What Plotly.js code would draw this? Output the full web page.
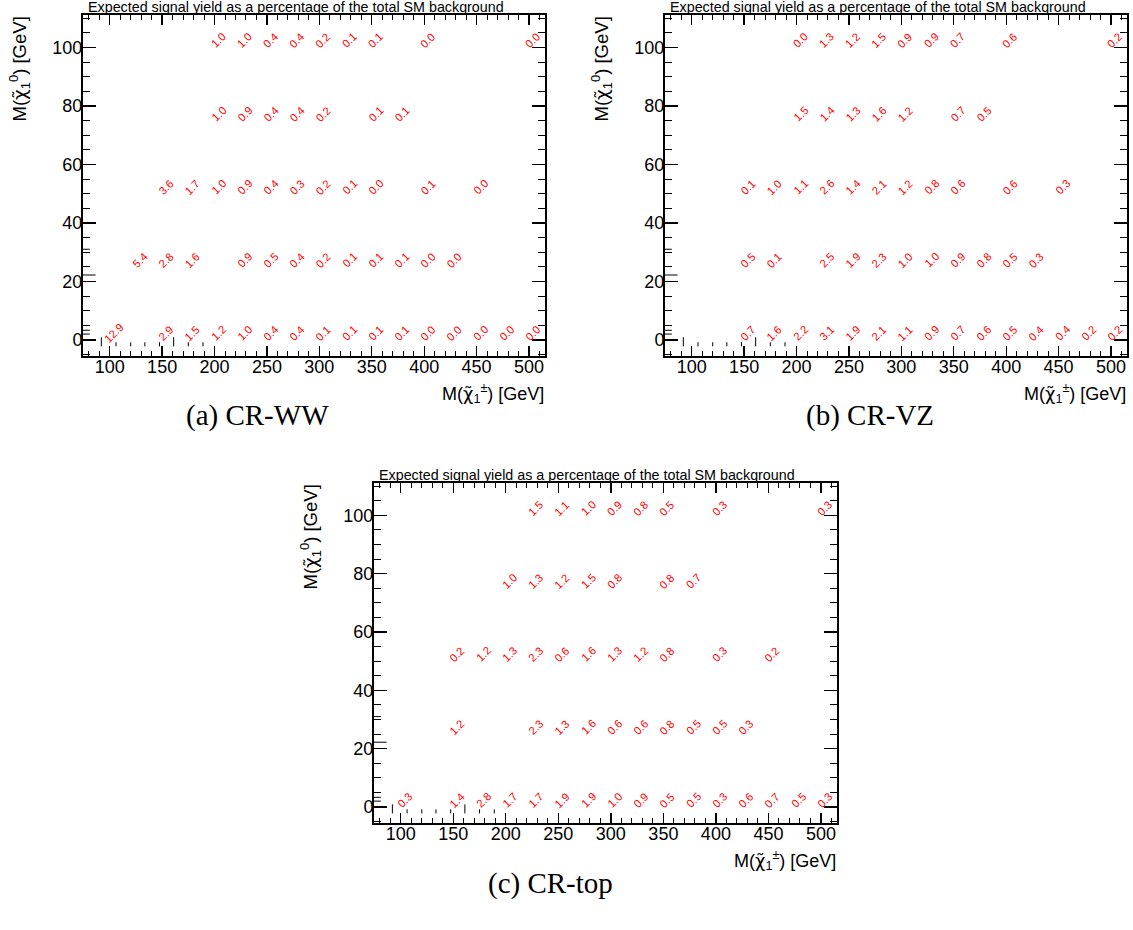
<!DOCTYPE html>
<html>
<head>
<meta charset="utf-8">
<script src="https://cdn.plot.ly/plotly-3.0.1.min.js"></script>
<style>html,body{margin:0;padding:0;background:#fff;}#chart{width:1133px;height:930px;}</style>
</head>
<body>
<div id="chart"></div>
<script>
// ---------- DATA ----------
// Panel (a) CR-WW
const wwX = [200,225,250,275,300,325,350,400,500,
             200,225,250,275,300,350,375,
             150,175,200,225,250,275,300,325,350,400,450,
             125,150,175,225,250,275,300,325,350,375,400,425,
             100,150,175,200,225,250,275,300,325,350,375,400,425,450,475,500];
const wwY = [100,100,100,100,100,100,100,100,100,
             75,75,75,75,75,75,75,
             50,50,50,50,50,50,50,50,50,50,50,
             25,25,25,25,25,25,25,25,25,25,25,25,
             0,0,0,0,0,0,0,0,0,0,0,0,0,0,0,0];
const wwV = [1.0,1.0,0.4,0.4,0.2,0.1,0.1,0.0,0.0,
             1.0,0.9,0.4,0.4,0.2,0.1,0.1,
             3.6,1.7,1.0,0.9,0.4,0.3,0.2,0.1,0.0,0.1,0.0,
             5.4,2.8,1.6,0.9,0.5,0.4,0.2,0.1,0.1,0.1,0.0,0.0,
             12.9,2.9,1.5,1.2,1.0,0.4,0.4,0.1,0.1,0.1,0.1,0.0,0.0,0.0,0.0,0.0];

// Panel (b) CR-VZ
const vzX = [200,225,250,275,300,325,350,400,500,
             200,225,250,275,300,350,375,
             150,175,200,225,250,275,300,325,350,400,450,
             150,175,225,250,275,300,325,350,375,400,425,
             150,175,200,225,250,275,300,325,350,375,400,425,450,475,500];
const vzY = [100,100,100,100,100,100,100,100,100,
             75,75,75,75,75,75,75,
             50,50,50,50,50,50,50,50,50,50,50,
             25,25,25,25,25,25,25,25,25,25,25,
             0,0,0,0,0,0,0,0,0,0,0,0,0,0,0];
const vzV = [0.0,1.3,1.2,1.5,0.9,0.9,0.7,0.6,0.2,
             1.5,1.4,1.3,1.6,1.2,0.7,0.5,
             0.1,1.0,1.1,2.6,1.4,2.1,1.2,0.8,0.6,0.6,0.3,
             0.5,0.1,2.5,1.9,2.3,1.0,1.0,0.9,0.8,0.5,0.3,
             0.7,1.6,2.2,3.1,1.9,2.1,1.1,0.9,0.7,0.6,0.5,0.4,0.4,0.2,0.2];

// Panel (c) CR-top
const topX = [225,250,275,300,325,350,400,500,
              200,225,250,275,300,350,375,
              150,175,200,225,250,275,300,325,350,400,450,
              150,225,250,275,300,325,350,375,400,425,
              100,150,175,200,225,250,275,300,325,350,375,400,425,450,475,500];
const topY = [100,100,100,100,100,100,100,100,
              75,75,75,75,75,75,75,
              50,50,50,50,50,50,50,50,50,50,50,
              25,25,25,25,25,25,25,25,25,25,
              0,0,0,0,0,0,0,0,0,0,0,0,0,0,0,0];
const topV = [1.5,1.1,1.0,0.9,0.8,0.5,0.3,0.3,
              1.0,1.3,1.2,1.5,0.8,0.8,0.7,
              0.2,1.2,1.3,2.3,0.6,1.6,1.3,1.2,0.8,0.3,0.2,
              1.2,2.3,1.3,1.6,0.6,0.6,0.8,0.5,0.5,0.3,
              0.3,1.4,2.8,1.7,1.7,1.9,1.9,1.0,0.9,0.5,0.5,0.3,0.6,0.7,0.5,0.3];

// small stray tick marks seen in every panel
const strayX     = [92,106,120,133.5,147.5,161,175,189];   // along the bottom row
const strayLong  = [1,0,0,0,0,1,0,0];
const strayY     = [22.2,31,2.0,3.3];                        // on the left axis
const strayYLong = [1,0,0,0];

const xTickVals = [100,150,200,250,300,350,400,450,500];
const yTickVals = [0,20,40,60,80,100];

const titleText = 'Expected signal yield as a percentage of the total SM background';
const CHI = '<span style="font-family:DejaVu Sans">χ̃</span>';
const xTitle = 'M(' + CHI + '<sub>1</sub><sup>±</sup>) [GeV]';
const yTitle = 'M(' + CHI + '<sub>1</sub><sup>0</sup>) [GeV]';
const captions = ['(a) CR-WW','(b) CR-VZ','(c) CR-top'];

// ---------- LAYOUT ----------
const W = 1133, H = 930;
const SANS = 'Liberation Sans, Arial, Helvetica, sans-serif';
const SERIF = 'Liberation Serif, DejaVu Serif, serif';
const XR = [74.5, 515.3], YR = [-5.5, 111.1];

const panels = [
  {xs:'x',  ys:'y',  xa:'xaxis',  ya:'yaxis',  box:[83,545,15,356],   cap:[257,415], X:wwX,  Y:wwY,  V:wwV},
  {xs:'x2', ys:'y2', xa:'xaxis2', ya:'yaxis2', box:[665,1127,15,356], cap:[870,415], X:vzX,  Y:vzY,  V:vzV},
  {xs:'x3', ys:'y3', xa:'xaxis3', ya:'yaxis3', box:[374,837,483,823], cap:[550,883], X:topX, Y:topY, V:topV}
];

const layout = {
  width: W, height: H,
  margin: {l:0, r:0, t:0, b:0},
  paper_bgcolor: '#fff', plot_bgcolor: '#fff',
  showlegend: false,
  annotations: [],
  font: {family: SANS, color: '#000'}
};
const data = [];

function axisBase(isX, domain, anchor) {
  return {
    domain: domain, anchor: anchor,
    range: isX ? XR : YR,
    tickmode: 'array',
    tickvals: isX ? xTickVals : yTickVals,
    ticks: 'inside',
    ticklen: isX ? 10 : 13,
    tickwidth: 1.3,
    tickcolor: '#000',
    mirror: 'allticks',
    showline: true, linewidth: 2, linecolor: '#000',
    showgrid: false, zeroline: false,
    tickfont: {family: SANS, size: 18, color: '#000'},
    ticklabelstandoff: isX ? -7 : -5,
    minor: {
      tickmode: 'linear',
      tick0: 0,
      dtick: isX ? 10 : 5,
      ticks: 'inside',
      ticklen: isX ? 5 : 7,
      tickwidth: 1,
      tickcolor: '#000',
      showgrid: false
    },
    fixedrange: true
  };
}

panels.forEach((p, i) => {
  const [l, r, t, b] = p.box;
  const xd = [l / W, r / W];
  const yd = [1 - b / H, 1 - t / H];
  layout[p.xa] = axisBase(true, xd, p.ys);
  layout[p.ya] = axisBase(false, yd, p.xs);

  // invisible trace so the axes are drawn
  data.push({x: p.X, y: p.Y, xaxis: p.xs, yaxis: p.ys, type: 'scatter', mode: 'markers',
             marker: {opacity: 0}, hoverinfo: 'skip'});

  // stray tick marks near the bottom row
  const sx = [], sy = [];
  strayX.forEach((v, k) => { sx.push(v, v, null); sy.push(-2.2, strayLong[k] ? 0.9 : -0.8, null); });
  data.push({x: sx, y: sy, xaxis: p.xs, yaxis: p.ys, type: 'scatter', mode: 'lines',
             line: {color: '#000', width: 1}, hoverinfo: 'skip', connectgaps: false});
  // stray tick marks on the left axis
  const tx = [], ty = [];
  strayY.forEach((v, k) => { tx.push(XR[0], XR[0] + (strayYLong[k] ? 12 : 6.5), null); ty.push(v, v, null); });
  data.push({x: tx, y: ty, xaxis: p.xs, yaxis: p.ys, type: 'scatter', mode: 'lines',
             line: {color: '#000', width: 1}, hoverinfo: 'skip', connectgaps: false});

  // the red numbers
  p.X.forEach((xv, k) => {
    layout.annotations.push({
      xref: p.xs, yref: p.ys, x: xv, y: p.Y[k],
      text: p.V[k].toFixed(1), textangle: -45, showarrow: false,
      xanchor: 'center', yanchor: 'middle', xshift: 4, yshift: 7,
      font: {family: SANS, size: 11.2, color: '#ff0000'}
    });
  });

  // plot title
  layout.annotations.push({
    xref: 'paper', yref: 'paper', x: (l + 3) / W, y: 1 - (t - 8) / H,
    xanchor: 'left', yanchor: 'middle', showarrow: false,
    text: titleText, font: {family: SANS, size: 14.3, color: '#000'}
  });
  // x axis title (right aligned)
  layout.annotations.push({
    xref: 'paper', yref: 'paper', x: (r + 1) / W, y: 1 - (b + 37) / H,
    xanchor: 'right', yanchor: 'middle', showarrow: false,
    text: xTitle, font: {family: SANS, size: 18, color: '#000'}
  });
  // y axis title (top aligned, rotated)
  layout.annotations.push({
    xref: 'paper', yref: 'paper', x: (l - 63) / W, y: 1 - t / H,
    xanchor: 'center', yanchor: 'top', showarrow: false, textangle: -90,
    text: yTitle, font: {family: SANS, size: 18.5, color: '#000'}
  });
  // caption
  layout.annotations.push({
    xref: 'paper', yref: 'paper', x: p.cap[0] / W, y: 1 - p.cap[1] / H,
    xanchor: 'center', yanchor: 'middle', showarrow: false,
    text: captions[i], font: {family: SERIF, size: 29, color: '#000'}
  });
});

Plotly.newPlot('chart', data, layout, {staticPlot: true, displayModeBar: false});
</script>
</body>
</html>
